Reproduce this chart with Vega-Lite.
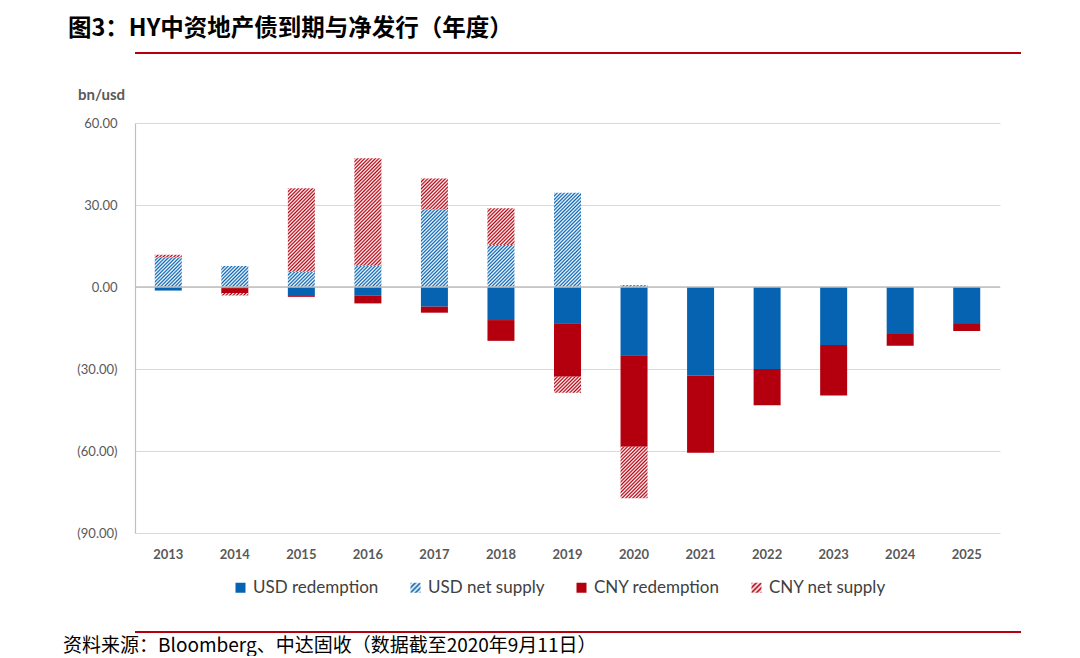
{
  "$schema": "https://vega.github.io/schema/vega-lite/v6.json",
  "background": "white",
  "padding": {"left": 63, "top": 16, "right": 20, "bottom": 0},
  "params": [
    {"name": "blueStops", "value": [
      {"offset": 0, "color": "#0563B2"}, {"offset": 0.0125, "color": "#ffffff"},
      {"offset": 0.025, "color": "#0563B2"}, {"offset": 0.0375, "color": "#ffffff"},
      {"offset": 0.05, "color": "#0563B2"}, {"offset": 0.0625, "color": "#ffffff"},
      {"offset": 0.075, "color": "#0563B2"}, {"offset": 0.0875, "color": "#ffffff"},
      {"offset": 0.1, "color": "#0563B2"}, {"offset": 0.1125, "color": "#ffffff"},
      {"offset": 0.125, "color": "#0563B2"}, {"offset": 0.1375, "color": "#ffffff"},
      {"offset": 0.15, "color": "#0563B2"}, {"offset": 0.1625, "color": "#ffffff"},
      {"offset": 0.175, "color": "#0563B2"}, {"offset": 0.1875, "color": "#ffffff"},
      {"offset": 0.2, "color": "#0563B2"}, {"offset": 0.2125, "color": "#ffffff"},
      {"offset": 0.225, "color": "#0563B2"}, {"offset": 0.2375, "color": "#ffffff"},
      {"offset": 0.25, "color": "#0563B2"}, {"offset": 0.2625, "color": "#ffffff"},
      {"offset": 0.275, "color": "#0563B2"}, {"offset": 0.2875, "color": "#ffffff"},
      {"offset": 0.3, "color": "#0563B2"}, {"offset": 0.3125, "color": "#ffffff"},
      {"offset": 0.325, "color": "#0563B2"}, {"offset": 0.3375, "color": "#ffffff"},
      {"offset": 0.35, "color": "#0563B2"}, {"offset": 0.3625, "color": "#ffffff"},
      {"offset": 0.375, "color": "#0563B2"}, {"offset": 0.3875, "color": "#ffffff"},
      {"offset": 0.4, "color": "#0563B2"}, {"offset": 0.4125, "color": "#ffffff"},
      {"offset": 0.425, "color": "#0563B2"}, {"offset": 0.4375, "color": "#ffffff"},
      {"offset": 0.45, "color": "#0563B2"}, {"offset": 0.4625, "color": "#ffffff"},
      {"offset": 0.475, "color": "#0563B2"}, {"offset": 0.4875, "color": "#ffffff"},
      {"offset": 0.5, "color": "#0563B2"}, {"offset": 0.5125, "color": "#ffffff"},
      {"offset": 0.525, "color": "#0563B2"}, {"offset": 0.5375, "color": "#ffffff"},
      {"offset": 0.55, "color": "#0563B2"}, {"offset": 0.5625, "color": "#ffffff"},
      {"offset": 0.575, "color": "#0563B2"}, {"offset": 0.5875, "color": "#ffffff"},
      {"offset": 0.6, "color": "#0563B2"}, {"offset": 0.6125, "color": "#ffffff"},
      {"offset": 0.625, "color": "#0563B2"}, {"offset": 0.6375, "color": "#ffffff"},
      {"offset": 0.65, "color": "#0563B2"}, {"offset": 0.6625, "color": "#ffffff"},
      {"offset": 0.675, "color": "#0563B2"}, {"offset": 0.6875, "color": "#ffffff"},
      {"offset": 0.7, "color": "#0563B2"}, {"offset": 0.7125, "color": "#ffffff"},
      {"offset": 0.725, "color": "#0563B2"}, {"offset": 0.7375, "color": "#ffffff"},
      {"offset": 0.75, "color": "#0563B2"}, {"offset": 0.7625, "color": "#ffffff"},
      {"offset": 0.775, "color": "#0563B2"}, {"offset": 0.7875, "color": "#ffffff"},
      {"offset": 0.8, "color": "#0563B2"}, {"offset": 0.8125, "color": "#ffffff"},
      {"offset": 0.825, "color": "#0563B2"}, {"offset": 0.8375, "color": "#ffffff"},
      {"offset": 0.85, "color": "#0563B2"}, {"offset": 0.8625, "color": "#ffffff"},
      {"offset": 0.875, "color": "#0563B2"}, {"offset": 0.8875, "color": "#ffffff"},
      {"offset": 0.9, "color": "#0563B2"}, {"offset": 0.9125, "color": "#ffffff"},
      {"offset": 0.925, "color": "#0563B2"}, {"offset": 0.9375, "color": "#ffffff"},
      {"offset": 0.95, "color": "#0563B2"}, {"offset": 0.9625, "color": "#ffffff"},
      {"offset": 0.975, "color": "#0563B2"}, {"offset": 0.9875, "color": "#ffffff"},
      {"offset": 1, "color": "#0563B2"}
    ]},
    {"name": "redStops", "value": [
      {"offset": 0, "color": "#B4000E"}, {"offset": 0.0125, "color": "#ffffff"},
      {"offset": 0.025, "color": "#B4000E"}, {"offset": 0.0375, "color": "#ffffff"},
      {"offset": 0.05, "color": "#B4000E"}, {"offset": 0.0625, "color": "#ffffff"},
      {"offset": 0.075, "color": "#B4000E"}, {"offset": 0.0875, "color": "#ffffff"},
      {"offset": 0.1, "color": "#B4000E"}, {"offset": 0.1125, "color": "#ffffff"},
      {"offset": 0.125, "color": "#B4000E"}, {"offset": 0.1375, "color": "#ffffff"},
      {"offset": 0.15, "color": "#B4000E"}, {"offset": 0.1625, "color": "#ffffff"},
      {"offset": 0.175, "color": "#B4000E"}, {"offset": 0.1875, "color": "#ffffff"},
      {"offset": 0.2, "color": "#B4000E"}, {"offset": 0.2125, "color": "#ffffff"},
      {"offset": 0.225, "color": "#B4000E"}, {"offset": 0.2375, "color": "#ffffff"},
      {"offset": 0.25, "color": "#B4000E"}, {"offset": 0.2625, "color": "#ffffff"},
      {"offset": 0.275, "color": "#B4000E"}, {"offset": 0.2875, "color": "#ffffff"},
      {"offset": 0.3, "color": "#B4000E"}, {"offset": 0.3125, "color": "#ffffff"},
      {"offset": 0.325, "color": "#B4000E"}, {"offset": 0.3375, "color": "#ffffff"},
      {"offset": 0.35, "color": "#B4000E"}, {"offset": 0.3625, "color": "#ffffff"},
      {"offset": 0.375, "color": "#B4000E"}, {"offset": 0.3875, "color": "#ffffff"},
      {"offset": 0.4, "color": "#B4000E"}, {"offset": 0.4125, "color": "#ffffff"},
      {"offset": 0.425, "color": "#B4000E"}, {"offset": 0.4375, "color": "#ffffff"},
      {"offset": 0.45, "color": "#B4000E"}, {"offset": 0.4625, "color": "#ffffff"},
      {"offset": 0.475, "color": "#B4000E"}, {"offset": 0.4875, "color": "#ffffff"},
      {"offset": 0.5, "color": "#B4000E"}, {"offset": 0.5125, "color": "#ffffff"},
      {"offset": 0.525, "color": "#B4000E"}, {"offset": 0.5375, "color": "#ffffff"},
      {"offset": 0.55, "color": "#B4000E"}, {"offset": 0.5625, "color": "#ffffff"},
      {"offset": 0.575, "color": "#B4000E"}, {"offset": 0.5875, "color": "#ffffff"},
      {"offset": 0.6, "color": "#B4000E"}, {"offset": 0.6125, "color": "#ffffff"},
      {"offset": 0.625, "color": "#B4000E"}, {"offset": 0.6375, "color": "#ffffff"},
      {"offset": 0.65, "color": "#B4000E"}, {"offset": 0.6625, "color": "#ffffff"},
      {"offset": 0.675, "color": "#B4000E"}, {"offset": 0.6875, "color": "#ffffff"},
      {"offset": 0.7, "color": "#B4000E"}, {"offset": 0.7125, "color": "#ffffff"},
      {"offset": 0.725, "color": "#B4000E"}, {"offset": 0.7375, "color": "#ffffff"},
      {"offset": 0.75, "color": "#B4000E"}, {"offset": 0.7625, "color": "#ffffff"},
      {"offset": 0.775, "color": "#B4000E"}, {"offset": 0.7875, "color": "#ffffff"},
      {"offset": 0.8, "color": "#B4000E"}, {"offset": 0.8125, "color": "#ffffff"},
      {"offset": 0.825, "color": "#B4000E"}, {"offset": 0.8375, "color": "#ffffff"},
      {"offset": 0.85, "color": "#B4000E"}, {"offset": 0.8625, "color": "#ffffff"},
      {"offset": 0.875, "color": "#B4000E"}, {"offset": 0.8875, "color": "#ffffff"},
      {"offset": 0.9, "color": "#B4000E"}, {"offset": 0.9125, "color": "#ffffff"},
      {"offset": 0.925, "color": "#B4000E"}, {"offset": 0.9375, "color": "#ffffff"},
      {"offset": 0.95, "color": "#B4000E"}, {"offset": 0.9625, "color": "#ffffff"},
      {"offset": 0.975, "color": "#B4000E"}, {"offset": 0.9875, "color": "#ffffff"},
      {"offset": 1, "color": "#B4000E"}
    ]},
    {"name": "legendBlue", "value": {"gradient": "linear", "x1": 0, "y1": 0, "x2": 1, "y2": 1, "stops": [
      {"offset": 0, "color": "#0563B2"}, {"offset": 0.125, "color": "#ffffff"},
      {"offset": 0.25, "color": "#0563B2"}, {"offset": 0.375, "color": "#ffffff"},
      {"offset": 0.5, "color": "#0563B2"}, {"offset": 0.625, "color": "#ffffff"},
      {"offset": 0.75, "color": "#0563B2"}, {"offset": 0.875, "color": "#ffffff"},
      {"offset": 1, "color": "#0563B2"}
    ]}},
    {"name": "legendRed", "value": {"gradient": "linear", "x1": 0, "y1": 0, "x2": 1, "y2": 1, "stops": [
      {"offset": 0, "color": "#B4000E"}, {"offset": 0.125, "color": "#ffffff"},
      {"offset": 0.25, "color": "#B4000E"}, {"offset": 0.375, "color": "#ffffff"},
      {"offset": 0.5, "color": "#B4000E"}, {"offset": 0.625, "color": "#ffffff"},
      {"offset": 0.75, "color": "#B4000E"}, {"offset": 0.875, "color": "#ffffff"},
      {"offset": 1, "color": "#B4000E"}
    ]}}
  ],
  "align": "none",
  "spacing": 30,
  "resolve": {"scale": {"fill": "independent"}, "legend": {"fill": "independent"}},
  "vconcat": [
    {
      "title": {
        "text": "图3：HY中资地产债到期与净发行（年度）",
        "anchor": "start", "dx": -67, "offset": 7,
        "font": "Noto Sans CJK SC", "fontSize": 23.5, "fontWeight": "bold", "color": "#000000"
      },
      "width": 886, "height": 2,
      "view": {"fill": "#B4000E", "stroke": null},
      "data": {"values": [{"t": ""}]},
      "mark": {"type": "text"},
      "encoding": {"text": {"field": "t"}}
    },
    {
      "title": {
        "text": "bn/usd", "anchor": "start", "frame": "group", "dx": -57, "offset": 14,
        "font": "Lato", "fontSize": 15, "fontWeight": "bold", "color": "#595959"
      },
      "width": 865, "height": 410,
      "data": {"values": [
        {"year": "2013", "series": "USD redemption", "value": -1.3},
        {"year": "2013", "series": "USD net supply", "value": 10.9},
        {"year": "2013", "series": "CNY redemption", "value": 0},
        {"year": "2013", "series": "CNY net supply", "value": 0.9},
        {"year": "2014", "series": "USD redemption", "value": -0.4},
        {"year": "2014", "series": "USD net supply", "value": 7.7},
        {"year": "2014", "series": "CNY redemption", "value": -1.8},
        {"year": "2014", "series": "CNY net supply", "value": -0.9},
        {"year": "2015", "series": "USD redemption", "value": -3.3},
        {"year": "2015", "series": "USD net supply", "value": 5.6},
        {"year": "2015", "series": "CNY redemption", "value": -0.3},
        {"year": "2015", "series": "CNY net supply", "value": 30.5},
        {"year": "2016", "series": "USD redemption", "value": -3.2},
        {"year": "2016", "series": "USD net supply", "value": 7.8},
        {"year": "2016", "series": "CNY redemption", "value": -2.8},
        {"year": "2016", "series": "CNY net supply", "value": 39.3},
        {"year": "2017", "series": "USD redemption", "value": -7.2},
        {"year": "2017", "series": "USD net supply", "value": 28.4},
        {"year": "2017", "series": "CNY redemption", "value": -2.2},
        {"year": "2017", "series": "CNY net supply", "value": 11.3},
        {"year": "2018", "series": "USD redemption", "value": -12.1},
        {"year": "2018", "series": "USD net supply", "value": 15.4},
        {"year": "2018", "series": "CNY redemption", "value": -7.6},
        {"year": "2018", "series": "CNY net supply", "value": 13.4},
        {"year": "2019", "series": "USD redemption", "value": -13.3},
        {"year": "2019", "series": "USD net supply", "value": 34.5},
        {"year": "2019", "series": "CNY redemption", "value": -19.5},
        {"year": "2019", "series": "CNY net supply", "value": -5.9},
        {"year": "2020", "series": "USD redemption", "value": -25.0},
        {"year": "2020", "series": "USD net supply", "value": 0.7},
        {"year": "2020", "series": "CNY redemption", "value": -33.4},
        {"year": "2020", "series": "CNY net supply", "value": -18.9},
        {"year": "2021", "series": "USD redemption", "value": -32.4},
        {"year": "2021", "series": "USD net supply", "value": 0},
        {"year": "2021", "series": "CNY redemption", "value": -28.2},
        {"year": "2021", "series": "CNY net supply", "value": 0},
        {"year": "2022", "series": "USD redemption", "value": -30.0},
        {"year": "2022", "series": "USD net supply", "value": 0},
        {"year": "2022", "series": "CNY redemption", "value": -13.3},
        {"year": "2022", "series": "CNY net supply", "value": 0},
        {"year": "2023", "series": "USD redemption", "value": -21.2},
        {"year": "2023", "series": "USD net supply", "value": 0},
        {"year": "2023", "series": "CNY redemption", "value": -18.5},
        {"year": "2023", "series": "CNY net supply", "value": 0},
        {"year": "2024", "series": "USD redemption", "value": -17.2},
        {"year": "2024", "series": "USD net supply", "value": 0},
        {"year": "2024", "series": "CNY redemption", "value": -4.3},
        {"year": "2024", "series": "CNY net supply", "value": 0},
        {"year": "2025", "series": "USD redemption", "value": -13.5},
        {"year": "2025", "series": "USD net supply", "value": 0},
        {"year": "2025", "series": "CNY redemption", "value": -2.6},
        {"year": "2025", "series": "CNY net supply", "value": 0}
      ]},
      "layer": [
        {
          "mark": {"type": "bar", "width": 27},
          "encoding": {
            "x": {
              "field": "year", "type": "ordinal",
              "scale": {"paddingInner": 0, "paddingOuter": 0},
              "axis": {
                "title": null, "labelAngle": 0, "domain": false, "ticks": false, "grid": false,
                "labelFont": "Lato", "labelFontSize": 13, "labelFontWeight": "bold",
                "labelColor": "#595959", "labelPadding": 15
              }
            },
            "y": {
              "field": "value", "type": "quantitative", "stack": "zero",
              "scale": {"domain": [-90, 60], "nice": false},
              "axis": {
                "values": [-90, -60, -30, 0, 30, 60],
                "labelExpr": "datum.value < 0 ? '(' + format(-datum.value, '.2f') + ')' : format(datum.value, '.2f')",
                "title": null,
                "labelFont": "Lato", "labelFontSize": 13, "labelColor": "#595959", "labelPadding": 18,
                "ticks": false, "domainColor": "#BFBFBF", "domainWidth": 1.2,
                "gridColor": "#D9D9D9", "gridWidth": 1.2
              }
            },
            "fill": {
              "field": "series", "type": "nominal",
              "sort": ["USD redemption", "USD net supply", "CNY redemption", "CNY net supply"],
              "scale": {
                "domain": ["USD redemption", "USD net supply", "CNY redemption", "CNY net supply"],
                "range": ["#0563B2", {"expr": "legendBlue"}, "#B4000E", {"expr": "legendRed"}]
              },
              "legend": {
                "title": null, "orient": "none", "legendX": 97, "legendY": 456,
                "direction": "horizontal",
                "symbolType": "square", "symbolSize": 100, "symbolStrokeWidth": 0,
                "labelFont": "Lato", "labelFontSize": 17, "labelColor": "#404040",
                "labelOffset": 4, "columnPadding": 28
              },
              "condition": {
                "test": "indexof(datum.series, 'net supply') >= 0",
                "value": {"expr": "{gradient: 'linear', x1: 0, y1: 0, x2: 27 * 141.42 / (729 + pow(abs(datum.value) * 2.7333, 2)), y2: abs(datum.value) * 2.7333 * 141.42 / (729 + pow(abs(datum.value) * 2.7333, 2)), stops: datum.series == 'USD net supply' ? blueStops : redStops}"}
              }
            }
          }
        },
        {
          "data": {"values": [{"zero": 0}]},
          "mark": {"type": "rule", "color": "#BFBFBF", "strokeWidth": 1.5},
          "encoding": {"y": {"field": "zero", "type": "quantitative"}}
        }
      ]
    },
    {
      "title": {
        "text": "资料来源：Bloomberg、中达固收（数据截至2020年9月11日）",
        "orient": "bottom", "anchor": "start", "dx": -72, "offset": 0,
        "font": "Noto Sans CJK SC", "fontSize": 19, "fontWeight": "normal", "color": "#000000"
      },
      "width": 886, "height": 2,
      "view": {"fill": "#B4000E", "stroke": null},
      "data": {"values": [{"t": ""}]},
      "mark": {"type": "text"},
      "encoding": {"text": {"field": "t"}}
    }
  ],
  "config": {
    "view": {"stroke": null}
  }
}
